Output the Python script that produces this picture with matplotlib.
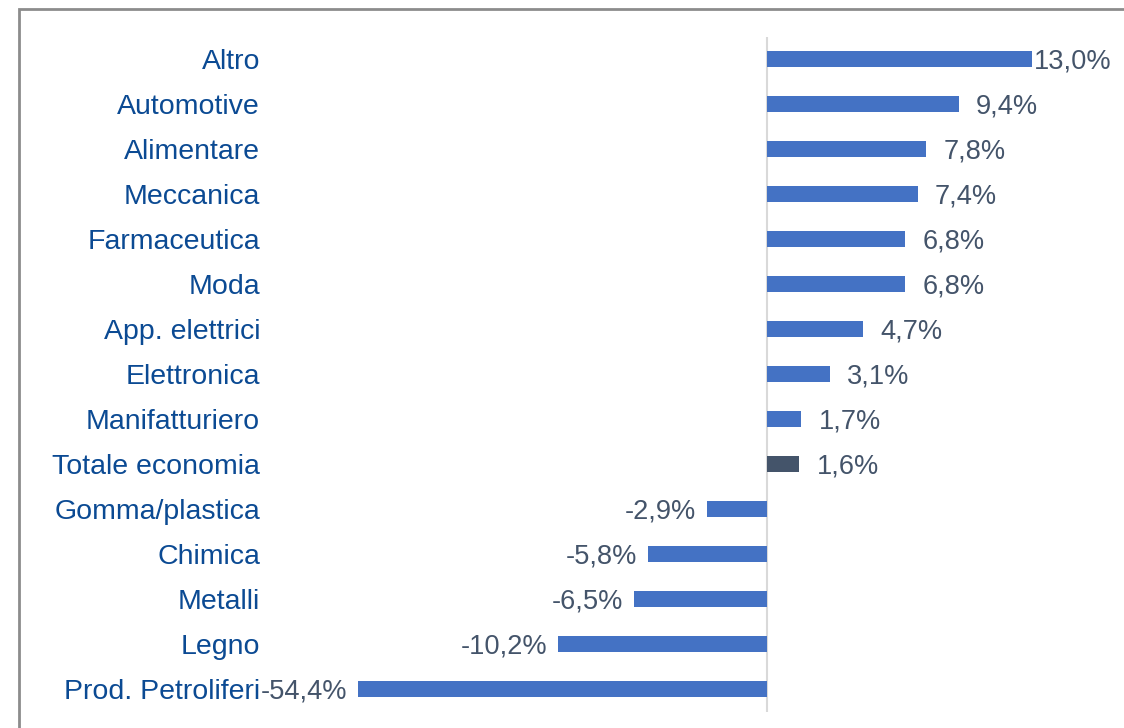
import matplotlib.pyplot as plt
from matplotlib.patches import Rectangle

# ====== Data ======
categories = ["Altro", "Automotive", "Alimentare", "Meccanica", "Farmaceutica",
              "Moda", "App. elettrici", "Elettronica", "Manifatturiero",
              "Totale economia", "Gomma/plastica", "Chimica", "Metalli",
              "Legno", "Prod. Petroliferi"]
values = [13.0, 9.4, 7.8, 7.4, 6.8, 6.8, 4.7, 3.1, 1.7, 1.6,
          -2.9, -5.8, -6.5, -10.2, -54.4]
highlight = "Totale economia"

plt.rcParams['font.family'] = ['Liberation Sans', 'DejaVu Sans']

fig = plt.figure(figsize=(11.24, 7.28), dpi=100)
ax = fig.add_axes([358 / 1124, 1 - 711.5 / 728, (1124 - 358) / 1124, 675 / 728])

xmin, xmax = -20, 17.5
y = list(range(len(categories)))
colors = ["#44546A" if c == highlight else "#4472C4" for c in categories]
ax.barh(y, values, height=0.36, color=colors, zorder=2)
ax.set_xlim(xmin, xmax)
ax.set_ylim(len(categories) - 0.5, -0.5)

# zero line
ax.axvline(0, color="#D9D9D9", lw=1.5, zorder=1)

# value labels
for yi, v in zip(y, values):
    txt = f"{v:.1f}%".replace(".", ",")
    if v >= 0:
        pad = 1 if v == max(values) else 12.5
        ax.annotate(txt, (v, yi), xytext=(pad, -1.8), textcoords="offset points",
                    ha="left", va="center", fontsize=19.6, color="#44546A",
                    annotation_clip=False)
    else:
        ax.annotate(txt, (max(v, xmin), yi), xytext=(-8, -1.8),
                    textcoords="offset points", ha="right", va="center",
                    fontsize=19.6, color="#44546A", annotation_clip=False)

ax.set_yticks(y)
ax.set_yticklabels(categories, fontsize=20.5, color="#0B4A93")
ax.tick_params(axis="y", length=0, pad=70.5)
ax.set_xticks([])
for s in ax.spines.values():
    s.set_visible(False)

# outer frame
fig.patches.append(Rectangle((19 / 1124, -0.05), 1.2, 1 - 9 / 728 + 0.05,
                             transform=fig.transFigure, fill=False,
                             edgecolor="#8C8C8C", lw=2, zorder=0))

fig.savefig("out.png", dpi=100)
